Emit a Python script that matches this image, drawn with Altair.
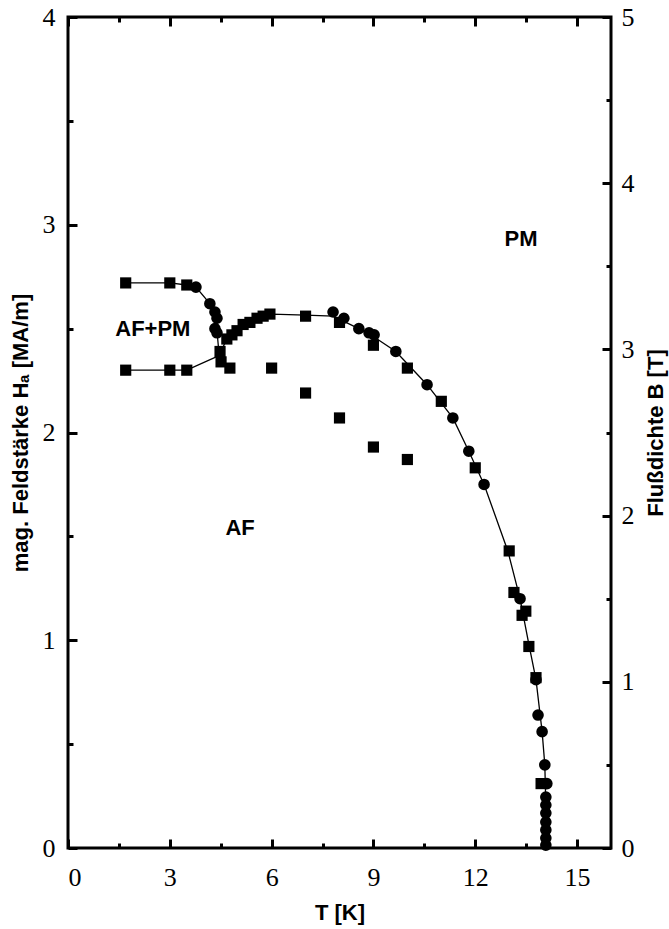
import altair as alt
import pandas as pd

# ---- data ----
sq_T = [1.7, 3.0, 3.5, 1.7, 3.0, 3.5, 4.48, 4.51, 4.68, 4.83, 4.98, 5.16, 5.36, 5.57, 5.75, 5.95,
        4.77, 6.0, 7.0, 8.0, 9.0, 10.0, 11.0, 12.0, 7.0, 8.0, 9.0, 10.0,
        13.0, 13.14, 13.38, 13.49, 13.58, 13.79, 13.94]
sq_H = [2.72, 2.72, 2.71, 2.30, 2.30, 2.30, 2.39, 2.34, 2.45, 2.47, 2.49, 2.52, 2.53, 2.55, 2.56, 2.57,
        2.31, 2.31, 2.56, 2.53, 2.42, 2.31, 2.15, 1.83, 2.19, 2.07, 1.93, 1.87,
        1.43, 1.23, 1.12, 1.14, 0.97, 0.82, 0.31]

circ_T = [3.77, 4.18, 4.33, 4.39, 4.33, 4.39, 7.81, 8.13, 8.57, 8.87, 9.02, 9.66, 10.58, 11.34,
          11.81, 12.26, 13.32, 13.79, 13.85, 13.97, 14.05, 14.11,
          14.08, 14.08, 14.08, 14.08, 14.08, 14.08, 14.08]
circ_H = [2.70, 2.62, 2.58, 2.55, 2.50, 2.48, 2.58, 2.55, 2.50, 2.48, 2.47, 2.39, 2.23, 2.07,
          1.91, 1.75, 1.20, 0.81, 0.64, 0.56, 0.40, 0.31,
          0.245, 0.207, 0.168, 0.125, 0.087, 0.048, 0.014]

upper_T = [1.7, 3.0, 3.5, 3.77, 4.18, 4.33, 4.39, 4.40, 4.45]
upper_H = [2.72, 2.72, 2.71, 2.70, 2.62, 2.58, 2.53, 2.47, 2.38]
lower_T = [1.7, 3.0, 3.5, 4.45]
lower_H = [2.30, 2.30, 2.30, 2.37]
main_T = [4.45, 4.68, 4.98, 5.36, 5.75, 6.0, 7.0, 7.81, 8.57, 9.02, 9.66, 10.58, 11.34, 11.81,
          12.26, 12.96, 13.32, 13.58, 13.79, 13.97, 14.05, 14.08, 14.08]
main_H = [2.37, 2.45, 2.49, 2.53, 2.56, 2.57, 2.565, 2.56, 2.50, 2.46, 2.39, 2.23, 2.07, 1.91,
          1.75, 1.43, 1.20, 0.98, 0.81, 0.56, 0.40, 0.20, 0.0]

region_labels = ["PM", "AF+PM", "AF"]
region_T = [13.35, 2.5, 5.07]
region_H = [2.93, 2.50, 1.54]

x_major = [0, 3, 6, 9, 12, 15]
x_minor = [1.5, 4.5, 7.5, 10.5, 13.5]
yl_major = [0, 1, 2, 3, 4]
yl_minor = [0.5, 1.5, 2.5, 3.5]
yr_major = [0, 1, 2, 3, 4, 5]
yr_minor = [0.5, 1.5, 2.5, 3.5, 4.5]

X_DOM = [0, 16]
YL_DOM = [0, 4]
YR_DOM = [0, 5]

W, H = 543, 831
SERIF = "Liberation Serif"
SANS = "Liberation Sans"

xs = alt.Scale(domain=X_DOM, nice=False, zero=False)
ys = alt.Scale(domain=YL_DOM, nice=False, zero=False)
ysr = alt.Scale(domain=YR_DOM, nice=False, zero=False)

# ---- marks ----
line_df = pd.DataFrame({
    "T": upper_T + lower_T + main_T,
    "H": upper_H + lower_H + main_H,
    "seg": ["u"] * len(upper_T) + ["l"] * len(lower_T) + ["m"] * len(main_T),
    "i": list(range(len(upper_T))) + list(range(len(lower_T))) + list(range(len(main_T))),
})
sq_df = pd.DataFrame({"T": sq_T, "H": sq_H})
circ_df = pd.DataFrame({"T": circ_T, "H": circ_H})
lab_df = pd.DataFrame({"T": region_T, "H": region_H, "label": region_labels})

enc = dict(x=alt.X("T:Q", scale=xs, axis=None), y=alt.Y("H:Q", scale=ys, axis=None))

lines = alt.Chart(line_df).mark_line(color="black", strokeWidth=1.3).encode(
    detail="seg:N", order="i:Q", **enc)
squares = alt.Chart(sq_df).mark_point(shape="square", filled=True, color="black",
                                      size=125, opacity=1).encode(**enc)
circles = alt.Chart(circ_df).mark_point(shape="circle", filled=True, color="black",
                                        size=135, opacity=1).encode(**enc)
labels = alt.Chart(lab_df).mark_text(font=SANS, fontWeight="bold", fontSize=22,
                                     color="black").encode(text="label:N", **enc)


# ---- axes (invisible layers, one axis each) ----
def x_axis_layer(values, axis):
    df = pd.DataFrame({"v": values})
    return alt.Chart(df).mark_point(opacity=0).encode(
        x=alt.X("v:Q", scale=xs, axis=axis), y=alt.value(0))


def y_axis_layer(values, scale, axis):
    df = pd.DataFrame({"v": values})
    return alt.Chart(df).mark_point(opacity=0).encode(
        y=alt.Y("v:Q", scale=scale, axis=axis), x=alt.value(0))


def tick_axis(orient, values, size):
    return alt.Axis(orient=orient, values=values, tickSize=size, offset=-size, tickWidth=3,
                    tickColor="black", labels=False, domain=False, grid=False, title=None)


axis_layers = [
    # bottom labels + title
    x_axis_layer(x_major, alt.Axis(orient="bottom", values=x_major, ticks=False, domain=False,
                                   grid=False, labelFont=SERIF, labelFontSize=26,
                                   labelColor="black", labelPadding=16, title="T [K]",
                                   titleFont=SANS, titleFontSize=22, titleFontWeight="bold",
                                   titleColor="black", titlePadding=12)),
    x_axis_layer(x_major, tick_axis("bottom", x_major, 9)),
    x_axis_layer(x_minor, tick_axis("bottom", x_minor, 5)),
    x_axis_layer(x_major, tick_axis("top", x_major, 9)),
    x_axis_layer(x_minor, tick_axis("top", x_minor, 5)),
    # left axis
    y_axis_layer(yl_major, ys, alt.Axis(orient="left", values=yl_major, ticks=False, domain=False,
                                        grid=False, labelFont=SERIF, labelFontSize=26,
                                        labelColor="black", labelPadding=13,
                                        title="mag. Feldstärke Hₐ [MA/m]", titleFont=SANS,
                                        titleFontSize=22, titleFontWeight="bold",
                                        titleColor="black", titlePadding=10)),
    y_axis_layer(yl_major, ys, tick_axis("left", yl_major, 9)),
    y_axis_layer(yl_minor, ys, tick_axis("left", yl_minor, 5)),
    # right axis (B in T)
    y_axis_layer(yr_major, ysr, alt.Axis(orient="right", values=yr_major, ticks=False,
                                         domain=False, grid=False, labelFont=SERIF,
                                         labelFontSize=26, labelColor="black", labelPadding=10,
                                         title="Flußdichte B [T]", titleFont=SANS,
                                         titleFontSize=22, titleFontWeight="bold",
                                         titleColor="black", titleAngle=270, titlePadding=33)),
    y_axis_layer(yr_major, ysr, tick_axis("right", yr_major, 9)),
    y_axis_layer(yr_minor, ysr, tick_axis("right", yr_minor, 5)),
]

chart = alt.layer(lines, squares, circles, labels, *axis_layers).resolve_scale(
    x="independent", y="independent"
).properties(
    width=W, height=H,
    autosize=alt.AutoSizeParams(type="none"),
    padding={"left": 68, "top": 17, "right": 58, "bottom": 81},
    background="white",
).configure_view(
    stroke="black", strokeWidth=3
).configure_axis(
    labelFont=SERIF, titleFont=SANS
)

chart.save("out.html", embed_options={"renderer": "svg", "actions": False})
